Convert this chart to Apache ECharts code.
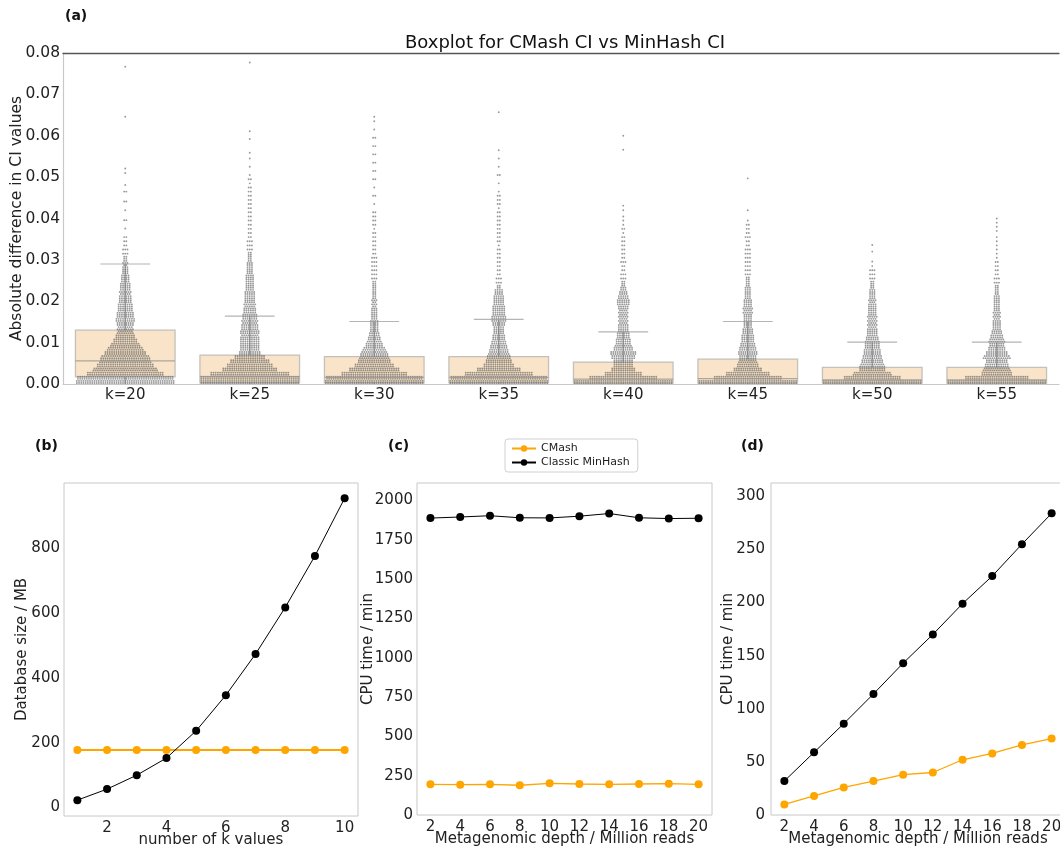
<!DOCTYPE html>
<html>
<head>
<meta charset="utf-8">
<title>CMash vs Classic MinHash</title>
<script src="https://cdn.jsdelivr.net/npm/echarts@6/dist/echarts.min.js"></script>
<style>
  html, body { margin: 0; padding: 0; background: #fff; }
  #chart { width: 1060px; height: 853px; }
</style>
</head>
<body>
<div id="chart"></div>
<script>
// ---- (a) boxplot of |CMash CI - MinHash CI| per k ----
const kLabels = ['k=20', 'k=25', 'k=30', 'k=35', 'k=40', 'k=45', 'k=50', 'k=55'];
const boxLow = [0, 0, 0, 0, 0, 0, 0, 0];
const boxQ1 = [0.0017, 0.0003, 0.0003, 0.0003, 0.0002, 0.0002, 0.0002, 0.0002];
const boxMedian = [0.0056, 0.0018, 0.0016, 0.0016, 0.0012, 0.0013, 0.0010, 0.0010];
const boxQ3 = [0.0130, 0.0070, 0.0066, 0.0066, 0.0053, 0.0060, 0.0040, 0.0040];
const boxHigh = [0.0290, 0.0164, 0.0151, 0.0156, 0.0126, 0.0151, 0.0101, 0.0101];

// swarm as [value, number of points in a 0.001 slice]
const swarmK20 = [[0.0005, 90], [0.0015, 88], [0.0025, 70], [0.0035, 59], [0.0045, 52], [0.0055, 47],
  [0.0065, 45], [0.0075, 38], [0.0085, 33], [0.0095, 27], [0.0105, 22], [0.0115, 18], [0.0125, 15],
  [0.0135, 15], [0.0145, 16], [0.0155, 18], [0.0165, 16], [0.0175, 15], [0.0185, 14], [0.0195, 13],
  [0.0205, 12], [0.0215, 11], [0.0225, 11], [0.0235, 10], [0.0245, 9], [0.0255, 8], [0.0265, 7],
  [0.0275, 6], [0.0285, 5], [0.0295, 5], [0.0305, 4], [0.0315, 3], [0.0325, 3], [0.0335, 2],
  [0.0345, 2], [0.0355, 2], [0.0376, 1], [0.0396, 2], [0.042, 1], [0.0441, 2], [0.0465, 2],
  [0.0481, 1], [0.051, 1], [0.0521, 1], [0.0646, 1], [0.0767, 1]];
const swarmK25 = [[0.0005, 90], [0.0015, 90], [0.0025, 72], [0.0035, 50], [0.0045, 42], [0.0055, 36],
  [0.0065, 28], [0.0075, 20], [0.0085, 18], [0.0095, 18], [0.0105, 18], [0.0115, 17], [0.0125, 18],
  [0.0135, 16], [0.0145, 15], [0.0155, 15], [0.0165, 14], [0.0175, 12], [0.0185, 11], [0.0195, 11],
  [0.0205, 10], [0.0215, 10], [0.0225, 9], [0.0235, 8], [0.0245, 8], [0.0255, 8], [0.0265, 7],
  [0.0275, 6], [0.0285, 6], [0.0295, 5], [0.0305, 4], [0.0315, 4], [0.0325, 3], [0.0335, 3],
  [0.0345, 3], [0.0355, 2], [0.0365, 2], [0.0375, 2], [0.0385, 2], [0.0395, 2], [0.0405, 2],
  [0.0415, 2], [0.0425, 2], [0.0435, 2], [0.0445, 2], [0.0455, 2], [0.0465, 2], [0.0475, 2],
  [0.0485, 1], [0.0495, 2], [0.0505, 1], [0.0525, 1], [0.0545, 1], [0.0559, 1], [0.0592, 1],
  [0.0611, 1], [0.0777, 1]];
const swarmK30 = [[0.0005, 90], [0.0015, 88], [0.0025, 60], [0.0035, 46], [0.0045, 36], [0.0055, 30],
  [0.0065, 27], [0.0075, 25], [0.0085, 21], [0.0095, 16], [0.0105, 13], [0.0115, 11], [0.0125, 9],
  [0.0135, 8], [0.0145, 8], [0.0155, 7], [0.0165, 6], [0.0175, 6], [0.0185, 5], [0.0195, 5],
  [0.0205, 5], [0.0215, 4], [0.0225, 4], [0.0235, 4], [0.0245, 4], [0.0255, 3], [0.0265, 3],
  [0.0275, 3], [0.0285, 3], [0.0295, 3], [0.0305, 3], [0.0315, 2], [0.0325, 2], [0.0335, 2],
  [0.0345, 2], [0.0355, 2], [0.0365, 2], [0.0375, 1], [0.0385, 2], [0.0395, 2], [0.0405, 2],
  [0.0415, 2], [0.0435, 1], [0.0455, 2], [0.0475, 1], [0.0495, 2], [0.0515, 2], [0.0535, 2],
  [0.0555, 2], [0.0575, 2], [0.0595, 2], [0.0615, 1], [0.0635, 1], [0.0646, 1]];
const swarmK35 = [[0.0005, 90], [0.0015, 88], [0.0025, 62], [0.0035, 40], [0.0045, 28], [0.0055, 24],
  [0.0065, 22], [0.0075, 19], [0.0085, 17], [0.0095, 15], [0.0105, 13], [0.0115, 12], [0.0125, 10],
  [0.0135, 10], [0.0145, 12], [0.0155, 14], [0.0165, 13], [0.0175, 12], [0.0185, 12], [0.0195, 10],
  [0.0205, 10], [0.0215, 9], [0.0225, 8], [0.0235, 4], [0.0245, 3], [0.0255, 3], [0.0265, 2],
  [0.0275, 2], [0.0285, 2], [0.0295, 2], [0.0305, 2], [0.0315, 2], [0.0325, 2], [0.0335, 1],
  [0.0345, 2], [0.0355, 2], [0.0365, 2], [0.0375, 2], [0.0385, 2], [0.0395, 2], [0.0405, 2],
  [0.0415, 2], [0.0425, 1], [0.0435, 2], [0.0445, 2], [0.0455, 2], [0.0465, 1], [0.0485, 1],
  [0.0505, 2], [0.0525, 1], [0.0545, 1], [0.0565, 1], [0.0657, 1]];
const swarmK40 = [[0.0005, 90], [0.0015, 62], [0.0025, 34], [0.0035, 22], [0.0045, 18], [0.0055, 18],
  [0.0065, 22], [0.0075, 24], [0.0085, 18], [0.0095, 15], [0.0105, 14], [0.0115, 12], [0.0125, 11],
  [0.0135, 10], [0.0145, 9], [0.0155, 9], [0.0165, 9], [0.0175, 9], [0.0185, 10], [0.0195, 12],
  [0.0205, 11], [0.0215, 9], [0.0225, 7], [0.0235, 5], [0.0245, 4], [0.0255, 3], [0.0265, 3],
  [0.0275, 2], [0.0285, 2], [0.0295, 3], [0.0305, 2], [0.0315, 2], [0.0325, 2], [0.0335, 2],
  [0.0345, 2], [0.0355, 2], [0.0365, 1], [0.0375, 2], [0.0385, 1], [0.0395, 1], [0.0405, 1],
  [0.042, 1], [0.0431, 1], [0.0566, 1], [0.0600, 1]];
const swarmK45 = [[0.0005, 90], [0.0015, 62], [0.0025, 40], [0.0035, 26], [0.0045, 20], [0.0055, 17],
  [0.0065, 16], [0.0075, 18], [0.0085, 16], [0.0095, 14], [0.0105, 12], [0.0115, 12], [0.0125, 10],
  [0.0135, 9], [0.0145, 8], [0.0155, 8], [0.0165, 8], [0.0175, 9], [0.0185, 9], [0.0195, 8],
  [0.0205, 7], [0.0215, 6], [0.0225, 6], [0.0235, 5], [0.0245, 4], [0.0255, 4], [0.0265, 3],
  [0.0275, 3], [0.0285, 3], [0.0295, 3], [0.0305, 3], [0.0315, 3], [0.0325, 3], [0.0335, 2],
  [0.0345, 2], [0.0355, 3], [0.0365, 2], [0.0375, 2], [0.0385, 2], [0.0395, 1], [0.042, 1],
  [0.0497, 1]];
const swarmK50 = [[0.0005, 90], [0.0015, 52], [0.0025, 35], [0.0035, 24], [0.0045, 23], [0.0055, 20],
  [0.0065, 18], [0.0075, 16], [0.0085, 15], [0.0095, 14], [0.0105, 13], [0.0115, 11], [0.0125, 10],
  [0.0135, 9], [0.0145, 9], [0.0155, 9], [0.0165, 9], [0.0175, 8], [0.0185, 8], [0.0195, 7],
  [0.0205, 7], [0.0215, 6], [0.0225, 6], [0.0235, 4], [0.0245, 4], [0.0255, 3], [0.0265, 3],
  [0.0275, 3], [0.0285, 1], [0.0296, 1], [0.032, 1], [0.0336, 1]];
const swarmK55 = [[0.0005, 90], [0.0015, 58], [0.0025, 28], [0.0035, 25], [0.0045, 22], [0.0055, 20],
  [0.0065, 25], [0.0075, 20], [0.0085, 16], [0.0095, 14], [0.0105, 15], [0.0115, 12], [0.0125, 10],
  [0.0135, 8], [0.0145, 8], [0.0155, 7], [0.0165, 7], [0.0175, 7], [0.0185, 6], [0.0195, 6],
  [0.0205, 6], [0.0215, 5], [0.0225, 4], [0.0235, 4], [0.0245, 3], [0.0255, 3], [0.0265, 2],
  [0.0275, 2], [0.0285, 2], [0.0295, 2], [0.0305, 1], [0.0315, 1], [0.0325, 1], [0.0335, 1],
  [0.0345, 1], [0.0355, 1], [0.0370, 1], [0.0380, 1], [0.0390, 1], [0.0400, 1]];
const swarms = [swarmK20, swarmK25, swarmK30, swarmK35, swarmK40, swarmK45, swarmK50, swarmK55];

// ---- (b) database size ----
const numK = [1, 2, 3, 4, 5, 6, 7, 8, 9, 10];
const dbCMash = [178, 178, 178, 178, 178, 178, 178, 178, 178, 178];
const dbMinHash = [23, 57, 100, 153, 237, 347, 474, 618, 777, 955];

// ---- (c) and (d) CPU time ----
const depth = [2, 4, 6, 8, 10, 12, 14, 16, 18, 20];
const cpuCMashC = [195, 193, 195, 189, 201, 197, 195, 197, 199, 195];
const cpuMinHashC = [1887, 1894, 1902, 1889, 1888, 1899, 1916, 1889, 1884, 1886];
const cpuCMashD = [10, 18, 26, 32, 38, 40, 52, 58, 66, 72];
const cpuMinHashD = [32, 59, 86, 114, 143, 170, 199, 225, 255, 284];

const FONT = 'DejaVu Sans';
const TXT = '#222';
const ORANGE = '#ffa500';
const DOT = 'rgba(85,85,85,0.6)';
const LINE_GRAY = 'rgba(120,120,120,0.75)';

const chart = echarts.init(document.getElementById('chart'));

const boxData = kLabels.map((k, i) => [i, boxQ1[i], boxMedian[i], boxQ3[i], boxLow[i], boxHigh[i]]);
const swarmData = [];
swarms.forEach((rows, i) => rows.forEach(r => swarmData.push([i, r[0], r[1]])));

function renderBox(params, api) {
  const cat = api.value(0);
  const w = api.size([1, 0])[0] * 0.8;
  const p1 = api.coord([cat, api.value(1)]);
  const p3 = api.coord([cat, api.value(3)]);
  return {
    type: 'rect',
    shape: { x: p1[0] - w / 2, y: p3[1], width: w, height: p1[1] - p3[1] },
    style: { fill: '#f9e4c9', stroke: '#c4c0bb', lineWidth: 1.3 }
  };
}

function renderBoxLines(params, api) {
  const cat = api.value(0);
  const w = api.size([1, 0])[0] * 0.8;
  const p1 = api.coord([cat, api.value(1)]);
  const pm = api.coord([cat, api.value(2)]);
  const p3 = api.coord([cat, api.value(3)]);
  const lo = api.coord([cat, api.value(4)]);
  const hi = api.coord([cat, api.value(5)]);
  const x = p1[0];
  const st = { stroke: LINE_GRAY, lineWidth: 1.2 };
  return {
    type: 'group',
    children: [
      { type: 'line', shape: { x1: x, y1: p3[1], x2: x, y2: hi[1] }, style: st },
      { type: 'line', shape: { x1: x, y1: p1[1], x2: x, y2: lo[1] }, style: st },
      { type: 'line', shape: { x1: x - w / 4, y1: hi[1], x2: x + w / 4, y2: hi[1] }, style: { stroke: 'rgba(150,150,150,0.7)', lineWidth: 1.2 } },
      { type: 'line', shape: { x1: x - w / 2, y1: pm[1], x2: x + w / 2, y2: pm[1] }, style: { stroke: 'rgba(150,150,150,0.8)', lineWidth: 1.2 } }
    ]
  };
}

// lays the points of one slice out side by side, like a swarm
function renderSwarm(params, api) {
  const cat = api.value(0);
  const n = api.value(2);
  const c = api.coord([cat, api.value(1)]);
  const maxW = api.size([1, 0])[0] * 0.8 - 2;
  const binH = api.size([0, 0.001])[1];
  const lines = n > 3 ? 2 : 1;
  const children = [];
  for (let l = 0; l < lines; l++) {
    const m = Math.ceil((n - l) / lines);
    if (m <= 0) continue;
    let pitch = 2.2;
    if (m > 1 && (m - 1) * pitch > maxW) pitch = maxW / (m - 1);
    const y = lines === 1 ? c[1] : c[1] + (l === 0 ? binH / 4 : -binH / 4);
    for (let j = 0; j < m; j++) {
      children.push({
        type: 'circle',
        shape: { cx: c[0] + (j - (m - 1) / 2) * pitch, cy: y, r: 0.95 },
        style: { fill: DOT }
      });
    }
  }
  return { type: 'group', children };
}

const labelStyle = { fontFamily: FONT, fontSize: 15, color: TXT };
const nameStyle = { fontFamily: FONT, fontSize: 15, color: TXT };
const plain = v => String(v);

function valueAxis(extra) {
  return Object.assign({
    type: 'value',
    axisLine: { show: false },
    axisTick: { show: false },
    splitLine: { show: false },
    nameLocation: 'middle',
    nameMoveOverlap: false,
    nameTextStyle: nameStyle
  }, extra);
}

function lineSeries(name, xi, yi, xs, ys, color, width) {
  return {
    type: 'line',
    name: name,
    xAxisIndex: xi,
    yAxisIndex: yi,
    data: xs.map((x, i) => [x, ys[i]]),
    symbol: 'circle',
    symbolSize: 8,
    showSymbol: true,
    itemStyle: { color: color },
    lineStyle: { color: color, width: width },
    z: name === 'CMash' ? 3 : 4
  };
}

const gridBase = { containLabel: false, outerBoundsMode: 'none' };

const option = {
  animation: false,
  backgroundColor: '#fff',
  textStyle: { fontFamily: FONT },
  grid: [
    Object.assign({ left: 63, top: 53, right: 1, bottom: 469, show: false }, gridBase),
    Object.assign({ left: 64, top: 483, right: 702, bottom: 37, show: true, borderColor: '#c8c8c8', borderWidth: 1 }, gridBase),
    Object.assign({ left: 417, top: 483, right: 348, bottom: 38, show: true, borderColor: '#c8c8c8', borderWidth: 1 }, gridBase),
    Object.assign({ left: 771, top: 483, width: 294, bottom: 38, show: true, borderColor: '#c8c8c8', borderWidth: 1 }, gridBase)
  ],
  legend: {
    data: ['CMash', 'Classic MinHash'],
    orient: 'vertical',
    left: 505,
    top: 439,
    itemGap: 3,
    itemWidth: 24,
    itemHeight: 8,
    padding: [4, 8, 4, 6],
    borderColor: '#d0d0d0',
    borderWidth: 1,
    borderRadius: 3,
    textStyle: { fontFamily: FONT, fontSize: 11, color: TXT }
  },
  graphic: [
    { type: 'text', left: 65, top: 9, style: { text: '(a)', font: 'bold 14px "DejaVu Sans"', fill: '#111' } },
    { type: 'text', left: 35, top: 439, style: { text: '(b)', font: 'bold 14px "DejaVu Sans"', fill: '#111' } },
    { type: 'text', left: 388, top: 439, style: { text: '(c)', font: 'bold 14px "DejaVu Sans"', fill: '#111' } },
    { type: 'text', left: 741, top: 439, style: { text: '(d)', font: 'bold 14px "DejaVu Sans"', fill: '#111' } },
    { type: 'text', x: 565, y: 43, style: { text: 'Boxplot for CMash CI vs MinHash CI', font: '18px "DejaVu Sans"', fill: '#111', textAlign: 'center', textVerticalAlign: 'middle' } }
  ],
  xAxis: [
    {
      type: 'category', gridIndex: 0, data: kLabels, position: 'bottom',
      axisLine: { show: true, lineStyle: { color: '#c8c8c8', width: 1.2 } },
      axisTick: { show: false },
      axisLabel: { margin: 4, fontFamily: FONT, fontSize: 15, color: TXT }
    },
    {
      type: 'category', gridIndex: 0, data: kLabels, position: 'top',
      axisLine: { show: true, lineStyle: { color: '#555', width: 1.3 } },
      axisTick: { show: false },
      axisLabel: { show: false }
    },
    valueAxis({
      gridIndex: 1, min: 0.55, max: 10.45,
      axisLabel: Object.assign({ margin: 5, customValues: [2, 4, 6, 8, 10], formatter: plain }, labelStyle),
      name: 'number of k values', nameGap: 17
    }),
    valueAxis({
      gridIndex: 2, min: 1.1, max: 20.9,
      axisLabel: Object.assign({ margin: 5, customValues: depth, formatter: plain }, labelStyle),
      name: 'Metagenomic depth / Million reads', nameGap: 17
    }),
    valueAxis({
      gridIndex: 3, min: 1.1, max: 20.9,
      axisLabel: Object.assign({ margin: 5, customValues: depth, formatter: plain }, labelStyle),
      name: 'Metagenomic depth / Million reads', nameGap: 17
    })
  ],
  yAxis: [
    {
      type: 'value', gridIndex: 0, min: 0, max: 0.08, interval: 0.01,
      axisLine: { show: true, lineStyle: { color: '#c8c8c8', width: 1.2 } },
      axisTick: { show: false },
      splitLine: { show: false },
      axisLabel: { margin: 3, formatter: v => v.toFixed(2), fontFamily: FONT, fontSize: 15.5, color: TXT },
      name: 'Absolute difference in CI values', nameLocation: 'middle', nameGap: 38,
      nameMoveOverlap: false,
      nameTextStyle: { fontFamily: FONT, fontSize: 15.5, color: TXT }
    },
    valueAxis({
      gridIndex: 1, min: -26, max: 1002,
      axisLabel: Object.assign({ margin: 4, customValues: [0, 200, 400, 600, 800], formatter: plain }, labelStyle),
      name: 'Database size / MB', nameGap: 34
    }),
    valueAxis({
      gridIndex: 2, min: 0, max: 2110,
      axisLabel: Object.assign({ margin: 4, customValues: [0, 250, 500, 750, 1000, 1250, 1500, 1750, 2000], formatter: plain }, labelStyle),
      name: 'CPU time / min', nameGap: 41
    }),
    valueAxis({
      gridIndex: 3, min: 0, max: 312.6,
      axisLabel: Object.assign({ margin: 6, customValues: [0, 50, 100, 150, 200, 250, 300], formatter: plain }, labelStyle),
      name: 'CPU time / min', nameGap: 35
    })
  ],
  series: [
    { type: 'custom', name: 'box', xAxisIndex: 0, yAxisIndex: 0, renderItem: renderBox, data: boxData, z: 1, silent: true },
    { type: 'custom', name: 'swarm', xAxisIndex: 0, yAxisIndex: 0, renderItem: renderSwarm, data: swarmData, z: 2, silent: true, progressive: 0 },
    { type: 'custom', name: 'whisker', xAxisIndex: 0, yAxisIndex: 0, renderItem: renderBoxLines, data: boxData, z: 3, silent: true },
    lineSeries('CMash', 2, 1, numK, dbCMash, ORANGE, 2),
    lineSeries('Classic MinHash', 2, 1, numK, dbMinHash, '#000', 1),
    lineSeries('CMash', 3, 2, depth, cpuCMashC, ORANGE, 1.3),
    lineSeries('Classic MinHash', 3, 2, depth, cpuMinHashC, '#000', 1),
    lineSeries('CMash', 4, 3, depth, cpuCMashD, ORANGE, 1.3),
    lineSeries('Classic MinHash', 4, 3, depth, cpuMinHashD, '#000', 1)
  ]
};

chart.setOption(option);
</script>
</body>
</html>
